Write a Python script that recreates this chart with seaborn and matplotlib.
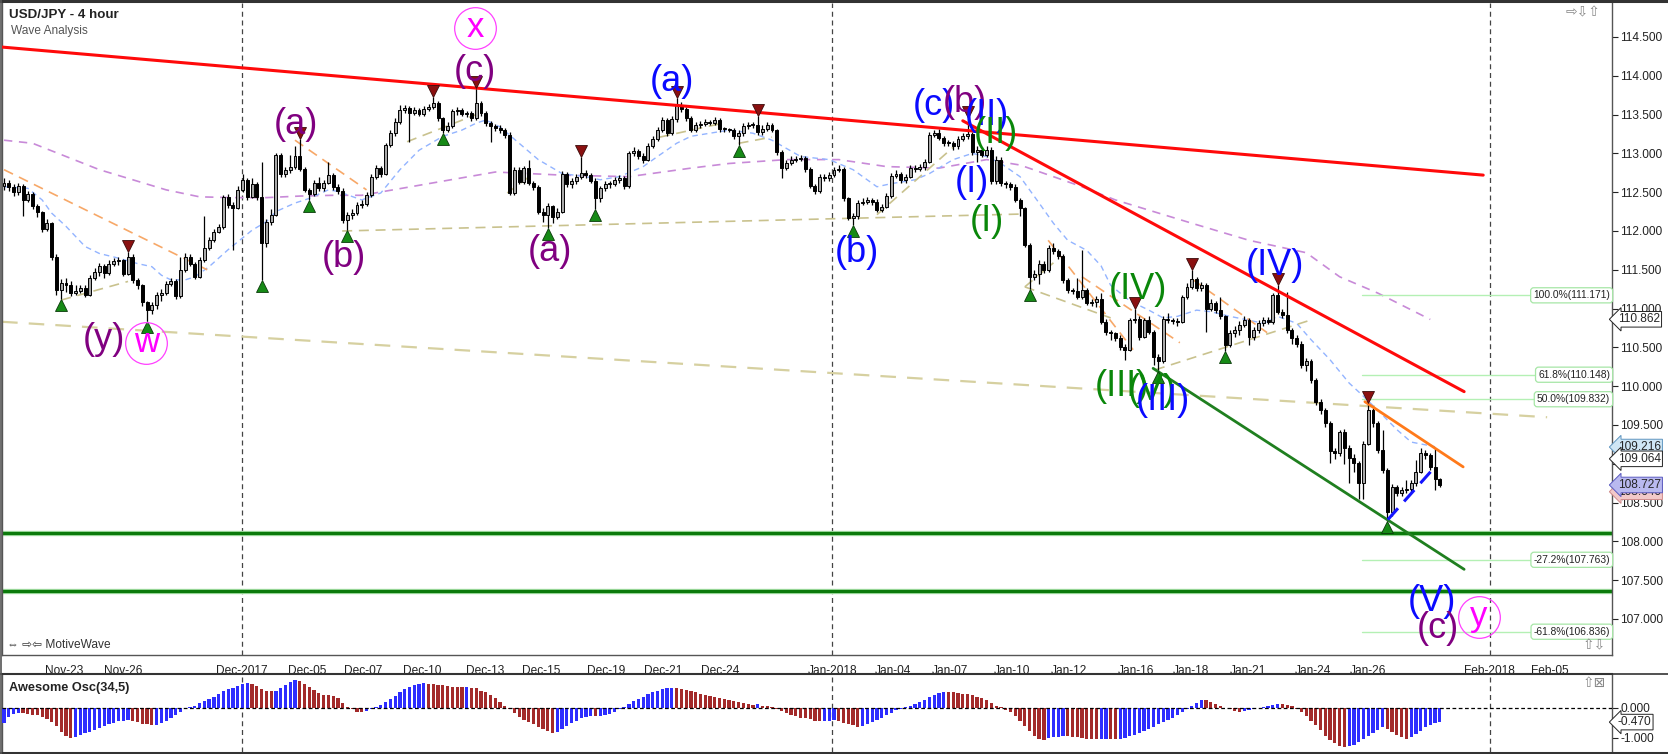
import numpy as np
import matplotlib
matplotlib.use("Agg")
import matplotlib.pyplot as plt
import seaborn as sns
from matplotlib.ticker import FormatStrFormatter
from matplotlib.transforms import offset_copy, blended_transform_factory
from matplotlib.lines import Line2D

# ---------------- data ----------------
first_open = 112.58
closes = [112.62,112.57,112.50,112.58,112.40,112.48,112.32,112.24,112.03,112.10,
          111.67,111.24,111.33,111.30,111.20,111.23,111.26,111.18,111.40,111.47,
          111.55,111.46,111.58,111.61,111.62,111.45,111.67,111.37,111.30,111.08,
          110.98,111.04,111.18,111.20,111.32,111.35,111.16,111.50,111.67,111.58,
          111.41,111.63,111.78,111.88,111.99,112.05,112.44,112.34,112.30,112.53,
          112.66,112.44,112.61,112.44,111.84,112.12,112.21,112.98,112.74,112.78,
          112.82,112.96,112.80,112.53,112.48,112.62,112.55,112.62,112.72,112.57,
          112.52,112.14,112.20,112.23,112.33,112.35,112.46,112.70,112.81,112.74,
          113.11,113.26,113.41,113.56,113.58,113.52,113.56,113.51,113.57,113.60,
          113.65,113.45,113.30,113.35,113.54,113.56,113.51,113.52,113.45,113.65,
          113.52,113.39,113.35,113.33,113.30,113.24,112.49,112.79,112.63,112.81,
          112.62,112.57,112.25,112.20,112.32,112.18,112.25,112.74,112.60,112.64,
          112.70,112.75,112.72,112.65,112.43,112.55,112.60,112.61,112.66,112.68,
          112.58,113.00,113.03,112.97,112.92,113.10,113.19,113.30,113.43,113.26,
          113.44,113.62,113.57,113.45,113.30,113.36,113.38,113.40,113.39,113.43,
          113.31,113.31,113.30,113.22,113.26,113.35,113.37,113.36,113.27,113.32,
          113.37,113.30,113.02,112.81,112.88,112.92,112.93,112.94,112.80,112.58,
          112.51,112.70,112.68,112.72,112.79,112.80,112.42,112.17,112.19,112.36,
          112.38,112.40,112.38,112.27,112.31,112.45,112.71,112.73,112.66,112.70,
          112.81,112.80,112.82,112.89,113.24,113.26,113.20,113.14,113.13,113.09,
          113.19,113.22,113.25,113.02,113.05,112.98,113.05,112.64,112.92,112.62,
          112.60,112.57,112.40,112.29,111.82,111.41,111.45,111.58,111.50,111.78,
          111.74,111.68,111.37,111.24,111.23,111.15,111.24,111.07,111.08,111.12,
          110.83,110.70,110.68,110.62,110.51,110.47,110.85,110.87,110.64,110.85,
          110.70,110.38,110.32,110.87,110.85,110.84,110.83,111.15,111.28,111.38,
          111.26,111.30,111.00,111.07,110.98,110.90,110.53,110.68,110.72,110.79,
          110.85,110.64,110.72,110.81,110.85,110.83,111.18,110.96,110.92,110.72,
          110.62,110.55,110.27,110.32,110.08,109.80,109.69,109.52,109.16,109.14,
          109.41,109.20,109.08,109.01,108.75,109.26,109.69,109.52,109.18,108.92,
          108.38,108.70,108.63,108.66,108.68,108.75,108.90,109.14,109.11,108.96,
          108.80,108.73]
highs = [112.68,112.66,112.60,112.62,112.61,112.52,112.50,112.35,112.26,112.15,
         112.12,111.70,111.38,111.40,111.35,111.30,111.31,111.30,111.43,111.52,
         111.59,111.58,111.62,111.65,111.66,111.64,111.73,111.70,111.40,111.32,
         111.10,111.09,111.22,111.25,111.36,111.40,111.38,111.66,111.71,111.70,
         111.60,111.66,112.19,111.92,112.03,112.09,112.47,112.48,112.37,112.58,
         112.74,112.68,112.68,112.63,112.89,112.16,112.28,113.00,113.00,112.82,
         112.98,113.09,113.18,112.83,112.56,112.66,112.70,112.66,112.89,112.75,
         112.60,112.55,112.24,112.28,112.37,112.40,112.50,112.74,112.85,112.84,
         113.14,113.30,113.45,113.62,113.62,113.61,113.60,113.59,113.61,113.64,
         113.73,113.67,113.47,113.40,113.57,113.60,113.58,113.55,113.54,113.84,
         113.68,113.54,113.42,113.38,113.36,113.33,113.27,112.83,112.82,112.84,
         112.91,112.65,112.59,112.29,112.36,112.34,112.29,112.77,112.76,112.68,
         112.74,112.95,112.78,112.75,112.68,112.58,112.64,112.65,112.70,112.72,
         112.71,113.03,113.08,113.06,113.00,113.14,113.23,113.34,113.47,113.46,
         113.48,113.71,113.66,113.60,113.48,113.40,113.42,113.44,113.43,113.47,
         113.45,113.34,113.33,113.33,113.30,113.39,113.41,113.40,113.48,113.36,
         113.40,113.39,113.32,113.05,112.92,112.96,112.97,112.98,112.96,112.82,
         112.61,112.74,112.73,112.76,112.83,112.85,112.83,112.44,112.23,112.40,
         112.43,112.44,112.43,112.41,112.35,112.49,112.75,112.78,112.76,112.74,
         112.85,112.85,112.86,112.93,113.27,113.30,113.31,113.23,113.17,113.16,
         113.23,113.26,113.45,113.28,113.09,113.08,113.09,113.08,112.96,112.95,
         112.65,112.63,112.60,112.43,112.31,111.84,111.50,111.62,111.61,111.82,
         111.84,111.77,111.70,111.39,111.27,111.40,111.75,111.26,111.12,111.16,
         111.20,110.86,110.73,110.70,110.66,110.55,110.88,111.00,110.90,110.88,
         110.90,110.73,110.41,110.90,110.94,110.88,110.88,111.18,111.33,111.50,
         111.41,111.34,111.33,111.12,111.10,111.15,110.92,110.72,110.77,110.84,
         110.90,110.88,110.76,110.85,110.89,110.89,111.20,111.30,110.99,111.22,
         110.75,110.66,110.58,110.36,110.35,110.10,109.83,109.72,109.55,109.20,
         109.44,109.45,109.24,109.12,109.04,109.30,109.78,109.72,109.55,109.44,
         108.95,108.74,108.73,108.70,108.79,108.79,109.05,109.20,109.18,109.14,
         109.20,108.82]
lows = [112.53,112.52,112.45,112.47,112.19,112.37,112.28,112.18,111.99,112.00,
        111.63,111.17,111.12,111.22,111.16,111.17,111.20,111.15,111.16,111.37,
        111.42,111.40,111.43,111.55,111.56,111.42,111.43,111.33,111.25,111.03,
        110.84,110.93,111.00,111.10,111.17,111.29,111.13,111.14,111.47,111.55,
        111.38,111.39,111.60,111.75,111.86,111.97,112.02,112.30,111.76,112.28,
        112.50,112.40,112.42,112.40,111.37,111.80,112.08,112.19,112.70,112.70,
        112.75,112.80,112.77,112.50,112.40,112.45,112.52,112.52,112.60,112.53,
        112.48,112.10,112.01,112.16,112.20,112.30,112.32,112.44,112.67,112.70,
        112.72,113.08,113.23,113.38,113.52,113.15,113.49,113.48,113.48,113.54,
        113.57,113.42,113.26,113.27,113.33,113.50,113.48,113.47,113.42,113.43,
        113.48,113.35,113.15,113.29,113.26,113.20,112.46,112.47,112.60,112.60,
        112.59,112.53,112.22,112.12,112.04,112.10,112.15,112.23,112.57,112.56,
        112.61,112.67,112.68,112.62,112.28,112.38,112.52,112.56,112.58,112.62,
        112.54,112.56,112.96,112.93,112.88,112.90,113.07,113.16,113.27,113.22,
        113.24,113.41,113.53,113.42,113.27,113.28,113.33,113.35,113.36,113.36,
        113.28,113.28,113.27,113.19,113.11,113.23,113.32,113.33,113.24,113.24,
        113.29,113.27,112.98,112.68,112.78,112.85,112.89,112.90,112.76,112.55,
        112.48,112.49,112.64,112.65,112.69,112.76,112.39,112.14,112.08,112.16,
        112.33,112.35,112.34,112.24,112.24,112.29,112.43,112.68,112.62,112.62,
        112.68,112.76,112.77,112.79,112.87,113.21,113.17,113.10,113.09,113.05,
        113.06,113.16,113.19,112.98,112.89,112.95,112.95,112.61,112.61,112.58,
        112.56,112.53,112.37,112.19,111.79,111.25,111.37,111.32,111.46,111.47,
        111.70,111.64,111.33,111.20,111.19,111.12,111.12,111.04,111.03,111.02,
        110.80,110.66,110.60,110.58,110.47,110.34,110.45,110.82,110.60,110.62,
        110.67,110.27,110.20,110.30,110.82,110.80,110.78,110.81,111.13,111.25,
        111.23,111.23,110.70,110.97,110.94,110.86,110.45,110.50,110.64,110.66,
        110.76,110.53,110.60,110.69,110.78,110.80,110.80,110.93,110.88,110.68,
        110.55,110.50,110.24,110.20,110.04,109.76,109.64,109.47,109.01,109.06,
        109.10,109.00,108.75,108.90,108.55,108.55,109.24,109.48,109.14,108.88,
        108.26,108.33,108.58,108.59,108.62,108.64,108.72,108.88,109.06,108.92,
        108.66,108.70]
ao_values = [-0.51,-0.30,-0.19,-0.16,-0.17,-0.19,-0.22,-0.25,-0.30,-0.37,
             -0.47,-0.60,-0.80,-0.92,-0.99,-0.96,-0.91,-0.85,-0.79,-0.73,
             -0.67,-0.61,-0.55,-0.50,-0.45,-0.42,-0.40,-0.42,-0.47,-0.52,
             -0.55,-0.58,-0.56,-0.50,-0.42,-0.33,-0.24,-0.12,-0.04,0.03,
             0.08,0.15,0.22,0.30,0.38,0.46,0.55,0.62,0.68,0.74,
             0.80,0.82,0.80,0.72,0.64,0.58,0.55,0.58,0.66,0.76,
             0.86,0.93,0.90,0.80,0.70,0.60,0.50,0.44,0.42,0.40,
             0.32,0.15,0.02,-0.05,-0.12,-0.15,-0.11,-0.04,0.03,0.10,
             0.20,0.30,0.40,0.52,0.62,0.70,0.76,0.80,0.82,0.80,
             0.79,0.77,0.75,0.73,0.71,0.70,0.69,0.70,0.68,0.65,
             0.58,0.52,0.42,0.32,0.20,0.05,-0.05,-0.18,-0.30,-0.40,
             -0.48,-0.55,-0.62,-0.70,-0.78,-0.85,-0.80,-0.70,-0.60,-0.50,
             -0.42,-0.35,-0.30,-0.27,-0.28,-0.26,-0.25,-0.20,-0.12,-0.04,
             0.03,0.12,0.22,0.30,0.38,0.45,0.52,0.58,0.62,0.65,
             0.66,0.65,0.64,0.60,0.56,0.52,0.48,0.44,0.40,0.36,
             0.33,0.30,0.27,0.24,0.20,0.17,0.14,0.11,0.12,0.08,
             0.07,0.04,-0.03,-0.10,-0.18,-0.24,-0.28,-0.32,-0.35,-0.38,
             -0.42,-0.44,-0.43,-0.42,-0.41,-0.44,-0.49,-0.54,-0.58,-0.62,
             -0.60,-0.55,-0.48,-0.40,-0.32,-0.24,-0.16,-0.08,-0.02,0.02,
             0.06,0.12,0.20,0.28,0.36,0.44,0.50,0.54,0.53,0.52,
             0.50,0.48,0.46,0.42,0.38,0.32,0.25,0.16,0.08,0.02,
             -0.06,-0.15,-0.28,-0.42,-0.60,-0.78,-0.92,-1.05,-1.07,-1.00,
             -0.97,-0.96,-0.95,-0.95,-0.96,-0.98,-1.00,-1.02,-1.04,-1.05,
             -1.04,-1.02,-1.03,-1.05,-1.04,-1.00,-0.95,-0.90,-0.84,-0.78,
             -0.70,-0.62,-0.55,-0.48,-0.40,-0.32,-0.22,-0.12,-0.02,0.08,
             0.18,0.26,0.25,0.20,0.14,0.06,0.00,-0.05,-0.10,-0.12,
             -0.10,-0.07,-0.04,-0.01,0.03,0.07,0.11,0.13,0.12,0.10,
             0.05,-0.05,-0.15,-0.28,-0.42,-0.58,-0.75,-0.92,-1.06,-1.18,
             -1.26,-1.29,-1.27,-1.22,-1.14,-1.04,-0.93,-0.82,-0.72,-0.64,
             -0.70,-0.80,-0.90,-0.98,-1.04,-0.98,-0.88,-0.76,-0.65,-0.56,
             -0.50,-0.47]

tick_labels = ["Nov-23","Nov-26","Dec-2017","Dec-05","Dec-07","Dec-10","Dec-13","Dec-15",
               "Dec-19","Dec-21","Dec-24","Jan-2018","Jan-04","Jan-07","Jan-10","Jan-12",
               "Jan-16","Jan-18","Jan-21","Jan-24","Jan-26","Feb-2018","Feb-05"]
tick_bars = [12.6,24.9,49.9,63.5,75.3,87.6,100.8,112.6,126.2,138.2,150.1,173.6,186.4,
             198.3,211.3,223.3,237.2,248.9,260.8,274.4,286.0,311.5,324.0]

price_ticks = [107.0, 107.5, 108.0, 108.5, 109.0, 109.5, 110.0, 110.5, 111.0, 111.5,
               112.0, 112.5, 113.0, 113.5, 114.0, 114.5]
hidden_price_ticks = [109.0]   # covered by the price tags in the reference

swing_low_idx = [12,30,54,64,72,92,114,124,154,178,215,242,256,290]
swing_high_idx = [26,62,90,99,121,141,158,202,237,249,267,286]

blue_ma_x = [0,5,8,10,13,17,20,24,28,31,33,35,38,40,43,47,49,52,55,57,61,64,68,70,75,79,83,87,
             92,96,99,101,104,108,112,117,122,125,129,134,137,141,144,148,152,157,161,167,173,
             178,183,186,191,194,199,203,206,209,213,217,220,223,227,230,232,236,240,243,246,
             250,253,257,261,264,267,271,274,278,282,285,288,292,295,300]
blue_ma_y = [112.57,112.55,112.40,112.23,112.06,111.80,111.71,111.65,111.58,111.54,
             111.43,111.37,111.37,111.41,111.54,111.76,111.86,112.01,112.12,112.25,
             112.36,112.42,112.53,112.51,112.40,112.49,112.79,113.04,113.22,113.30,
             113.39,113.43,113.34,113.13,112.92,112.74,112.70,112.66,112.70,112.83,
             112.96,113.13,113.22,113.26,113.30,113.26,113.17,112.96,112.92,112.79,
             112.57,112.61,112.66,112.74,112.92,113.00,112.96,112.87,112.70,112.36,
             112.10,111.88,111.75,111.55,111.30,111.10,110.98,110.88,110.90,110.98,
             110.96,110.90,110.85,110.81,110.90,110.81,110.60,110.34,110.04,109.87,
             109.69,109.44,109.28,109.22]
purple_ma_x = [0,6,13,20,27,34,41,48,55,62,69,75,89,103,117,131,144,152,164,175,185,196,206,
               213,220,226,233,249,261,273,280,288,299]
purple_ma_y = [113.17,113.13,112.96,112.79,112.66,112.53,112.44,112.43,112.43,112.45,
               112.46,112.46,112.61,112.76,112.72,112.70,112.81,112.87,112.92,112.92,
               112.83,112.81,112.92,112.85,112.70,112.57,112.40,112.10,111.88,111.72,
               111.41,111.20,110.86]

# drawn trend lines (bar index, price)
red_upper_x, red_upper_y = [-0.4, 310.1], [114.37, 112.72]
red_lower_x, red_lower_y = [201.0, 306.1], [113.42, 109.93]
green_chan_x, green_chan_y = [240.9, 306.1], [110.23, 107.64]
orange_x, orange_y = [285.3, 305.9], [109.80, 108.96]
blue_dash_x, blue_dash_y = [290.1, 299.4], [108.28, 108.92]
tan_long_x, tan_long_y = [-0.4, 323.5], [110.83, 109.60]
support_levels = [108.108, 107.36]
tan_segments = [([12, 26], [111.11, 111.35]), ([70.9, 214.3], [112.00, 112.22]),
                ([84.5, 99.8], [113.15, 113.52]), ([105.5, 111.0], [112.49, 112.74]),
                ([137.5, 150.7], [113.21, 113.39]), ([154, 161], [113.13, 113.21]),
                ([183, 199], [112.21, 113.08]), ([214, 232], [111.28, 110.88]),
                ([214, 220], [111.28, 111.59]), ([241.3, 273.8], [110.21, 110.85])]
orange_segments = [([0, 42.6], [112.79, 111.50]), ([61, 76], [113.17, 112.53]),
                   ([218.9, 236.7], [111.88, 110.47]), ([226, 246.5], [111.41, 110.56]),
                   ([249.3, 264.8], [111.37, 110.69])]

fib_start = 284.7
fib_names = ["100.0%", "61.8%", "50.0%", "-27.2%", "-61.8%"]
fib_levels = [111.171, 110.148, 109.832, 107.763, 106.836]

wave_text = ["(y)", "(c)", "(a)", "(b)", "(a)", "(a)", "(b)", "(c)", "(b)", "(II)", "(II)",
             "(I)", "(I)", "(IV)", "(IV)", "(III)", "(V)", "(III)", "(V)", "(c)"]
wave_color = ["purple", "purple", "purple", "purple", "purple", "blue", "blue", "blue",
              "purple", "blue", "green", "blue", "green", "green", "blue", "green",
              "green", "blue", "blue", "purple"]
wave_x = [21, 98.7, 61.2, 71.3, 114.5, 140, 178.8, 195, 201.5, 206, 208, 203, 206,
          237.7, 266.5, 234.4, 240.7, 243, 299.4, 300.6]
wave_y = [110.60, 114.05, 113.37, 111.66, 111.73, 113.92, 111.72, 113.62, 113.66, 113.49,
          113.26, 112.63, 112.12, 111.24, 111.56, 109.99, 109.95, 109.82, 107.22, 106.88]
circle_text = ["w", "x", "y"]
circle_x = [29.8, 98.7, 309.2]
circle_y = [110.56, 114.62, 107.03]

price_tags = [110.862, 109.216, 109.064, 108.727]
price_tag_fc = ["white", "#cfe6f5", "white", "#b9b9ef"]
price_tag_ec = ["#222222", "#5f95bf", "#222222", "#5a5ac0"]

# ---------------- style ----------------
sns.set_style("white")
plt.rcParams["font.family"] = ["Liberation Sans", "DejaVu Sans"]

W, H = 1668, 754
fig = plt.figure(figsize=(W / 100, H / 100), dpi=100)
fig.patch.set_facecolor("white")


def fx(px):
    return px / W


def fy(py):
    return 1 - py / H


ax = fig.add_axes([fx(2), fy(655), fx(1612) - fx(2), fy(3) - fy(655)])
ax2 = fig.add_axes([fx(2), fy(752), fx(1612) - fx(2), fy(674) - fy(752)])

n = min(len(closes), len(highs), len(lows))
c = np.array(closes[:n])
hi = np.array(highs[:n])
lo = np.array(lows[:n])
o = np.concatenate([[first_open], c[:-1]])
idx = np.arange(n)

XMIN, XMAX = -0.42, 337.1
for a in (ax, ax2):
    a.set_xlim(XMIN, XMAX)
    a.set_facecolor("white")
ax.set_ylim(106.536, 114.938)
ax2.set_ylim(-1.467, 1.133)

# month separators
month_bars = [b for b, l in zip(tick_bars, tick_labels) if len(l.split("-")[1]) == 4]
for a in (ax, ax2):
    for mb in month_bars:
        a.axvline(mb, color="#444444", lw=0.9, ls=(0, (4, 3)), zorder=1)

# long tan dashed line & moving averages
sns.lineplot(x=tan_long_x, y=tan_long_y, ax=ax, color="#d6d0a0", lw=1.6,
             linestyle=(0, (7, 5)), zorder=2)
sns.lineplot(x=purple_ma_x, y=purple_ma_y, ax=ax, color="#c88ad8", lw=1.2,
             linestyle=(0, (5, 4)), zorder=2, sort=False)
sns.lineplot(x=blue_ma_x, y=blue_ma_y, ax=ax, color="#93b4ff", lw=1.0,
             linestyle=(0, (4, 3)), zorder=2, sort=False)
for xs, ys in tan_segments:
    ax.plot(xs, ys, color="#c9c28e", lw=1.2, ls=(0, (6, 4)), zorder=2)
for xs, ys in orange_segments:
    ax.plot(xs, ys, color="#f7a868", lw=1.2, ls=(0, (6, 4)), zorder=2)

# fib levels
for nm, lv in zip(fib_names, fib_levels):
    ax.plot([fib_start, XMAX], [lv, lv], color="#b4f0b4", lw=1.0, zorder=2)
    ax.text(XMAX - 0.4, lv, f"{nm}({lv:.3f})", ha="right", va="center", fontsize=7.4,
            color="#222222", zorder=6,
            bbox=dict(boxstyle="round,pad=0.25,rounding_size=0.3", fc="white",
                      ec="#a6e6a6", lw=0.9))

# support lines
for lv in support_levels:
    ax.axhline(lv, color="#9ad89a", lw=3.8, zorder=2)
    ax.axhline(lv, color="#0b7a0b", lw=2.2, zorder=2)

# candles
wick_lo = np.minimum(lo, np.minimum(o, c))
wick_hi = np.maximum(hi, np.maximum(o, c))
ax.vlines(idx, wick_lo, wick_hi, color="black", lw=0.9, zorder=4)
up = c >= o
bb = np.minimum(o, c)
bh = np.maximum(np.abs(c - o), 0.014)
ax.bar(idx[up], bh[up], bottom=bb[up], width=0.62, color="#a8a8a8",
       edgecolor="black", lw=0.7, zorder=5)
ax.bar(idx[~up], bh[~up], bottom=bb[~up], width=0.62, color="black",
       edgecolor="black", lw=0.7, zorder=5)

# trend lines
sns.lineplot(x=red_upper_x, y=red_upper_y, ax=ax, color="#ff0a0a", lw=2.2, zorder=6)
sns.lineplot(x=red_lower_x, y=red_lower_y, ax=ax, color="#ff0a0a", lw=2.2, zorder=6)
sns.lineplot(x=green_chan_x, y=green_chan_y, ax=ax, color="#1f7f1f", lw=2.0, zorder=6)
sns.lineplot(x=orange_x, y=orange_y, ax=ax, color="#ff7a1a", lw=2.0, zorder=6)
sns.lineplot(x=blue_dash_x, y=blue_dash_y, ax=ax, color="#1414ff", lw=2.2,
             linestyle=(0, (5, 3)), zorder=6)

# swing markers
tr_dn = offset_copy(ax.transData, fig=fig, x=0, y=-6, units="dots")
tr_up = offset_copy(ax.transData, fig=fig, x=0, y=6, units="dots")
ax.plot(swing_low_idx, lo[swing_low_idx], "^", transform=tr_dn, ms=8.5, mfc="#168a16",
        mec="#0a3a0a", mew=0.6, ls="none", zorder=7)
ax.plot(swing_high_idx, hi[swing_high_idx], "v", transform=tr_up, ms=8.5, mfc="#8a1010",
        mec="#3a0a0a", mew=0.6, ls="none", zorder=7)

# wave labels
cmap = {"purple": "#800080", "blue": "#0a0aff", "green": "#0a870a"}
for t, col, x, y in zip(wave_text, wave_color, wave_x, wave_y):
    ax.text(x, y, t, color=cmap[col], fontsize=26, ha="center", va="center", zorder=8)
for t, x, y in zip(circle_text, circle_x, circle_y):
    ax.plot([x], [y], "o", ms=30, mfc="none", mec="#ff40ff", mew=0.9, zorder=8)
    ax.text(x, y, t, color="#ff00ff", fontsize=25, ha="center", va="center", zorder=8)

# axes styling - main
ax.yaxis.tick_right()
ax.set_yticks(price_ticks)
ax.set_yticklabels(["" if t in hidden_price_ticks else f"{t:.3f}" for t in price_ticks])
ax.tick_params(axis="y", direction="out", length=4, width=0.8, labelsize=8.6, pad=2,
               colors="#222222")
ax.set_xticks(tick_bars)
ax.set_xticklabels(tick_labels)
ax.tick_params(axis="x", direction="out", length=5, width=0.8, labelsize=8.6, pad=2,
               colors="#222222")
for s in ax.spines.values():
    s.set_color("#555555")
    s.set_linewidth(1.0)
ax.spines["top"].set_visible(False)

btr = blended_transform_factory(ax.transAxes, ax.transData)
ax.text(1.0035, 108.64, "108.640", transform=btr, ha="left", va="center", fontsize=8.6,
        clip_on=False, zorder=9,
        bbox=dict(boxstyle="larrow,pad=0.15", fc="#f2c9c9", ec="#d08c8c", lw=0.7))
for v, fc, ec in zip(price_tags, price_tag_fc, price_tag_ec):
    ax.text(1.0035, v, f"{v:.3f}", transform=btr, ha="left", va="center", fontsize=8.6,
            clip_on=False, zorder=10,
            bbox=dict(boxstyle="larrow,pad=0.15", fc=fc, ec=ec, lw=0.7))

# oscillator
ao = np.array(ao_values[:n])
prev = np.concatenate([[ao[0] - 1], ao[:-1]])
cols = np.where(ao > prev, "#2d2dff", "#a32a2a")
ax2.bar(np.arange(len(ao)), ao, width=0.68, color=cols, edgecolor="none", zorder=3)
ax2.axhline(0, color="black", lw=0.9, ls=(0, (3, 2)), zorder=4)
ax2.yaxis.tick_right()
ax2.set_yticks([0, -1])
ax2.set_yticklabels(["0.000", "-1.000"])
ax2.set_xticks([])
ax2.tick_params(axis="y", direction="out", length=4, width=0.8, labelsize=8.6, pad=2,
                colors="#222222")
for s in ax2.spines.values():
    s.set_color("#555555")
    s.set_linewidth(1.0)
ax2.spines["top"].set_color("#333333")
ax2.spines["top"].set_linewidth(1.5)
ax2.spines["bottom"].set_visible(False)
btr2 = blended_transform_factory(ax2.transAxes, ax2.transData)
ax2.text(1.0035, ao[-1], f"{ao[-1]:.3f}", transform=btr2, ha="left", va="center",
         fontsize=8.6, clip_on=False, zorder=10,
         bbox=dict(boxstyle="larrow,pad=0.15", fc="white", ec="#222222", lw=0.7))

# outer frame lines of the chart window
fig.add_artist(Line2D([0, 1], [fy(1.2), fy(1.2)], color="#333333", lw=2.2))
fig.add_artist(Line2D([0, 1], [fy(752.8), fy(752.8)], color="#333333", lw=2.2))
fig.add_artist(Line2D([0, 1], [fy(674), fy(674)], color="#333333", lw=1.2))
fig.add_artist(Line2D([fx(0.6), fx(0.6)], [0, 1], color="#555555", lw=1.2))

# header / footer texts
fig.text(fx(9), fy(15), "USD/JPY - 4 hour", fontsize=9.6, fontweight="bold",
         color="#222222", ha="left", va="center")
fig.text(fx(11), fy(31), "Wave Analysis", fontsize=8.6, color="#555555", ha="left",
         va="center")
fig.text(fx(7), fy(645), "⇔ ⇨⇦ MotiveWave", fontsize=8.6, color="#333333", ha="left",
         va="center")
fig.text(fx(9), fy(688), "Awesome Osc(34,5)", fontsize=9.2, fontweight="bold",
         color="#222222", ha="left", va="center")
fig.text(fx(1566), fy(12), "⇨⇩⇧", fontsize=10, color="#888888", ha="left", va="center")
fig.text(fx(1583), fy(645), "⇧⇩", fontsize=10, color="#888888", ha="left", va="center")
fig.text(fx(1583), fy(683), "⇧⊠", fontsize=10, color="#888888", ha="left", va="center")

fig.savefig("out.png", dpi=100, facecolor="white")
